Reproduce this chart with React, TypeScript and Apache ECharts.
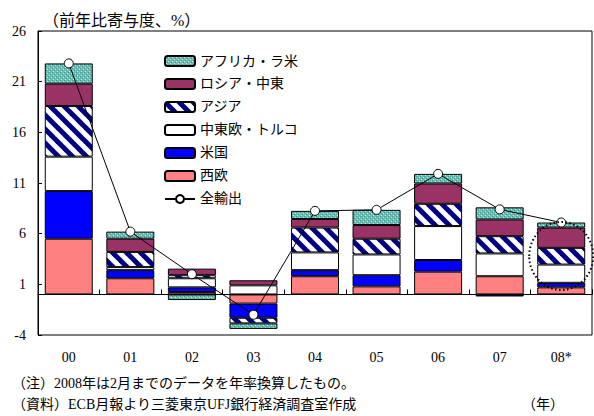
import React, { useEffect, useRef } from "react";
import * as echarts from "echarts";

// Contribution to year-on-year export growth by destination (percentage points)
const years = ["00", "01", "02", "03", "04", "05", "06", "07", "08*"];
const westernEurope = [5.5, 1.6, 0.25, -0.9, 1.8, 0.8, 2.25, 1.8, 0.7];
const unitedStates = [4.7, 0.8, 0.45, -1.4, 0.6, 1.1, 1.15, -0.2, 0.45];
const centralEasternEuropeTurkey = [3.4, 0.3, 0.9, 0.9, 1.75, 2.05, 3.35, 2.25, 1.8];
const asia = [5.0, 1.5, 0.3, -0.55, 2.45, 1.55, 2.2, 1.7, 1.65];
const russiaMiddleEast = [2.2, 1.3, 0.65, 0.5, 0.85, 1.35, 2.0, 1.65, 2.0];
const africaLatinAmerica = [2.0, 0.7, -0.55, -0.55, 0.8, 1.5, 0.95, 1.2, 0.5];
const totalExports = [22.8, 6.2, 2.0, -2.0, 8.25, 8.35, 11.9, 8.4, 7.1];

const yTicks = { min: -4, max: 26, step: 5 };

const FONT = "'Liberation Serif', 'Noto Sans CJK JP', serif";

function tile(size: number, draw: (ctx: CanvasRenderingContext2D, s: number) => void) {
  const c = document.createElement("canvas");
  c.width = size;
  c.height = size;
  const ctx = c.getContext("2d") as CanvasRenderingContext2D;
  draw(ctx, size);
  return { image: c, repeat: "repeat" as const };
}

function stripePattern() {
  return tile(14, (ctx, s) => {
    ctx.fillStyle = "#ffffff";
    ctx.fillRect(0, 0, s, s);
    ctx.strokeStyle = "#000080";
    ctx.lineWidth = 5;
    for (const off of [-s, 0, s]) {
      ctx.beginPath();
      ctx.moveTo(off - 2, -2);
      ctx.lineTo(off + s + 2, s + 2);
      ctx.stroke();
    }
  });
}

function dotPattern() {
  return tile(4, (ctx, s) => {
    ctx.fillStyle = "#6cbab1";
    ctx.fillRect(0, 0, s, s);
    ctx.fillStyle = "#3f9a90";
    ctx.fillRect(0, 0, 1, 1);
    ctx.fillRect(2, 2, 1, 1);
    ctx.fillStyle = "#c8ebe6";
    ctx.fillRect(1, 3, 1, 1);
    ctx.fillRect(3, 1, 1, 1);
  });
}

export default function App() {
  const ref = useRef<HTMLDivElement>(null);

  useEffect(() => {
    if (!ref.current) return;
    const chart = echarts.init(ref.current, undefined, { renderer: "svg" });

    const border = { borderColor: "#000", borderWidth: 1 };
    const bar = (name: string, data: number[], color: any) => ({
      name,
      type: "bar",
      stack: "dest",
      data,
      barWidth: 48,
      xAxisIndex: 0,
      yAxisIndex: 0,
      itemStyle: { color, ...border },
      emphasis: { disabled: true },
    });

    chart.setOption({
      animation: false,
      backgroundColor: "#ffffff",
      title: {
        text: "（前年比寄与度、%）",
        left: 38,
        top: 7,
        textStyle: { fontFamily: FONT, fontSize: 16, fontWeight: "normal", color: "#000" },
      },
      legend: {
        orient: "vertical",
        left: 159,
        top: 49,
        itemWidth: 30,
        itemHeight: 10,
        itemGap: 9,
        textStyle: { fontFamily: FONT, fontSize: 14, color: "#000" },
        data: ["アフリカ・ラ米", "ロシア・中東", "アジア", "中東欧・トルコ", "米国", "西欧", "全輸出"],
      },
      grid: {
        left: 38,
        right: 2,
        top: 31,
        bottom: 81,
        show: true,
        borderColor: "#000",
        borderWidth: 1,
        backgroundColor: "transparent",
      },
      xAxis: [
        {
          type: "category",
          data: years,
          position: "bottom",
          axisLine: { show: true, onZero: true, lineStyle: { color: "#000", width: 1 } },
          axisTick: { show: true, inside: true, length: 5, lineStyle: { color: "#000" } },
          axisLabel: { show: false },
        },
        {
          type: "category",
          data: years,
          position: "bottom",
          axisLine: { show: false, onZero: false },
          axisTick: { show: false },
          axisLabel: { show: true, margin: 15, fontFamily: FONT, fontSize: 14, color: "#000" },
        },
      ],
      yAxis: {
        type: "value",
        min: yTicks.min,
        max: yTicks.max,
        interval: yTicks.step,
        axisLine: { show: true, lineStyle: { color: "#000" } },
        axisTick: { show: true, inside: true, length: 4, lineStyle: { color: "#000" } },
        axisLabel: { margin: 12, fontFamily: FONT, fontSize: 14, color: "#000" },
        splitLine: { show: false },
      },
      series: [
        bar("西欧", westernEurope, "#ff8080"),
        bar("米国", unitedStates, "#0000ff"),
        bar("中東欧・トルコ", centralEasternEuropeTurkey, "#ffffff"),
        bar("アジア", asia, stripePattern()),
        bar("ロシア・中東", russiaMiddleEast, "#993366"),
        bar("アフリカ・ラ米", africaLatinAmerica, dotPattern()),
        {
          name: "全輸出",
          type: "line",
          data: totalExports,
          xAxisIndex: 0,
          yAxisIndex: 0,
          z: 5,
          symbol: "circle",
          symbolSize: 9,
          lineStyle: { color: "#000", width: 1 },
          itemStyle: { color: "#fff", borderColor: "#000", borderWidth: 1 },
          emphasis: { disabled: true },
        },
      ],
    });

    // dotted ring around the provisional 2008 bar
    const centre = chart.convertToPixel({ xAxisIndex: 0, yAxisIndex: 0 }, [8, 3.8]) as number[];
    chart.setOption({
      graphic: [
        {
          type: "ellipse",
          shape: { cx: centre[0], cy: centre[1], rx: 32, ry: 34 },
          style: { fill: "none", stroke: "#000", lineWidth: 2, lineDash: [1.5, 2.5] },
          z: 10,
          silent: true,
        },
        {
          type: "text",
          left: 12,
          top: 376,
          style: { text: "（注）2008年は2月までのデータを年率換算したもの。", font: `14px ${FONT}`, fill: "#000" },
        },
        {
          type: "text",
          left: 12,
          top: 397,
          style: { text: "（資料）ECB月報より三菱東京UFJ銀行経済調査室作成", font: `14px ${FONT}`, fill: "#000" },
        },
        {
          type: "text",
          left: 522,
          top: 397,
          style: { text: "（年）", font: `14px ${FONT}`, fill: "#000" },
        },
      ],
    });

    return () => chart.dispose();
  }, []);

  return (
    <div
      ref={ref}
      style={{ position: "absolute", left: 0, top: 0, width: 594, height: 416, background: "#fff" }}
    />
  );
}
